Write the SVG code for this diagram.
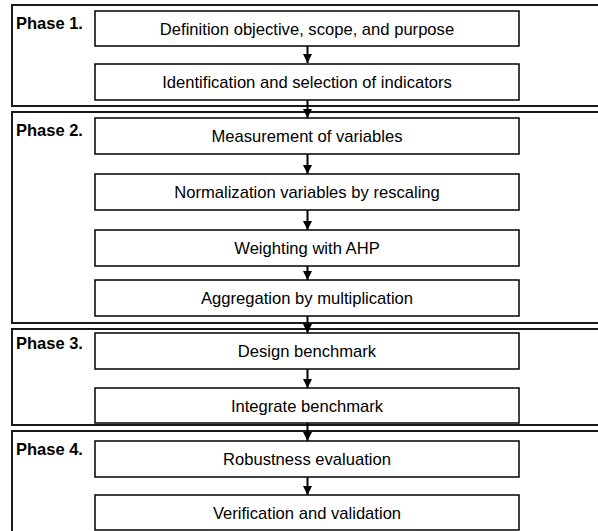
<svg xmlns="http://www.w3.org/2000/svg" width="598" height="531" viewBox="0 0 598 531">
  <style>
    .frame { fill: none; stroke: #1a1a1a; stroke-width: 2; }
    .box { fill: #fff; stroke: #000; stroke-width: 1.5; }
    .phase { font-family: "Liberation Sans", Arial, sans-serif; font-weight: bold; font-size: 16.5px; fill: #000; }
    .label { font-family: "Liberation Sans", Arial, sans-serif; font-size: 16.6px; fill: #000; text-anchor: middle; }
    .link { stroke: #000; stroke-width: 2; fill: none; marker-end: url(#head); }
  </style>
  <defs>
    <marker id="head" viewBox="0 0 10 10" refX="10" refY="5" markerWidth="4.5" markerHeight="4.5" orient="auto" markerUnits="strokeWidth">
      <path d="M0,0 L10,5 L0,10 z" fill="#000"/>
    </marker>
  </defs>
  <rect width="598" height="531" fill="#fff"/>

  <!-- phase frames -->
  <g id="phase1">
    <rect class="frame" x="12" y="5" width="600" height="101"/>
    <text class="phase" x="16" y="29">Phase 1.</text>
  </g>
  <g id="phase2">
    <rect class="frame" x="12" y="112" width="600" height="211"/>
    <text class="phase" x="16" y="136">Phase 2.</text>
  </g>
  <g id="phase3">
    <rect class="frame" x="12" y="329" width="600" height="96"/>
    <text class="phase" x="16" y="349">Phase 3.</text>
  </g>
  <g id="phase4">
    <rect class="frame" x="12" y="431" width="600" height="120"/>
    <text class="phase" x="16" y="455">Phase 4.</text>
  </g>

  <!-- connectors -->
  <g id="connectors">
    <line class="link" x1="307.5" y1="46" x2="307.5" y2="63"/>
    <line class="link" x1="307.5" y1="100" x2="307.5" y2="118"/>
    <line class="link" x1="307.5" y1="154" x2="307.5" y2="174"/>
    <line class="link" x1="307.5" y1="210" x2="307.5" y2="230"/>
    <line class="link" x1="307.5" y1="266" x2="307.5" y2="280"/>
    <line class="link" x1="307.5" y1="316" x2="307.5" y2="333"/>
    <line class="link" x1="307.5" y1="368" x2="307.5" y2="388"/>
    <line class="link" x1="307.5" y1="423" x2="307.5" y2="441"/>
    <line class="link" x1="307.5" y1="477" x2="307.5" y2="495"/>
  </g>

  <!-- process steps -->
  <g id="step-definition">
    <rect class="box" x="95" y="11" width="424" height="35"/>
    <text class="label" x="307" y="34.5">Definition objective, scope, and purpose</text>
  </g>
  <g id="step-indicators">
    <rect class="box" x="95" y="64" width="424" height="36"/>
    <text class="label" x="307" y="88">Identification and selection of indicators</text>
  </g>
  <g id="step-measurement">
    <rect class="box" x="95" y="118" width="424" height="36"/>
    <text class="label" x="307" y="142">Measurement of variables</text>
  </g>
  <g id="step-normalization">
    <rect class="box" x="95" y="174" width="424" height="36"/>
    <text class="label" x="307" y="198">Normalization variables by rescaling</text>
  </g>
  <g id="step-weighting">
    <rect class="box" x="95" y="230" width="424" height="36"/>
    <text class="label" x="307" y="254">Weighting with AHP</text>
  </g>
  <g id="step-aggregation">
    <rect class="box" x="95" y="280" width="424" height="36"/>
    <text class="label" x="307" y="304">Aggregation by multiplication</text>
  </g>
  <g id="step-design">
    <rect class="box" x="95" y="333" width="424" height="36"/>
    <text class="label" x="307" y="357">Design benchmark</text>
  </g>
  <g id="step-integrate">
    <rect class="box" x="95" y="388" width="424" height="35"/>
    <text class="label" x="307" y="411.5">Integrate benchmark</text>
  </g>
  <g id="step-robustness">
    <rect class="box" x="95" y="441" width="424" height="36"/>
    <text class="label" x="307" y="465">Robustness evaluation</text>
  </g>
  <g id="step-verification">
    <rect class="box" x="95" y="495" width="424" height="35"/>
    <text class="label" x="307" y="518.5">Verification and validation</text>
  </g>
</svg>
